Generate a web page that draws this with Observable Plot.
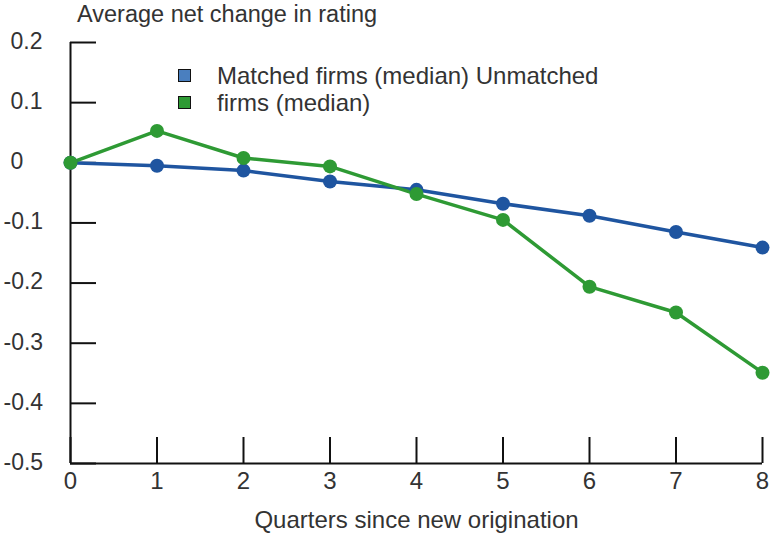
<!DOCTYPE html>
<html>
<head>
<meta charset="utf-8">
<script src="https://cdn.jsdelivr.net/npm/d3@7"></script>
<script src="https://cdn.jsdelivr.net/npm/@observablehq/plot@0.6"></script>
<style>
  html, body { margin: 0; padding: 0; background: #fff; }
  #wrap { position: relative; width: 771px; height: 537px; font-family: "Liberation Sans", Arial, sans-serif; color: #333; }
  #title { position: absolute; left: 77px; top: 1px; font-size: 23.5px; line-height: 26px; white-space: nowrap; }
  #legend { position: absolute; left: 178px; top: 62px; font-size: 24px; line-height: 27px; z-index: 2; }
  .item { display: flex; align-items: center; white-space: nowrap; }
  .sw { width: 11px; height: 11px; border: 1.5px solid #111; margin-right: 26px; }
</style>
</head>
<body>
<div id="wrap">
  <div id="title"></div>
  <div id="legend"></div>
</div>
<script>
const titleText = "Average net change in rating";
const xLabel = "Quarters since new origination";
const quarters = [0, 1, 2, 3, 4, 5, 6, 7, 8];
const matched = [0, -0.005, -0.013, -0.031, -0.045, -0.068, -0.088, -0.115, -0.141];
const unmatched = [0, 0.053, 0.008, -0.006, -0.052, -0.095, -0.206, -0.249, -0.349];
const seriesNames = ["Matched firms (median)", "Unmatched firms (median)"];
const legendLines = ["Matched firms (median) Unmatched", "firms (median)"];
const seriesColors = ["#1f55a0", "#2e9a34"];
const legendFill = ["#4a7fbf", "#2e9a34"];
const yTicks = [0.2, 0.1, 0, -0.1, -0.2, -0.3, -0.4, -0.5];
const xTicks = [0, 1, 2, 3, 4, 5, 6, 7, 8];

const data = [];
quarters.forEach((q, i) => {
  data.push({q, v: matched[i], s: seriesNames[0]});
  data.push({q, v: unmatched[i], s: seriesNames[1]});
});

document.getElementById("title").textContent = titleText;
const leg = document.getElementById("legend");
legendLines.forEach((t, i) => {
  const d = document.createElement("div");
  d.className = "item";
  d.innerHTML = `<span class="sw" style="background:${legendFill[i]}"></span><span>${t}</span>`;
  leg.appendChild(d);
});

const color = {domain: seriesNames, range: seriesColors};
const fmt = d => String(d);
const none = () => "";

const chart = Plot.plot({
  width: 771,
  height: 537,
  marginLeft: 70,
  marginRight: 9,
  marginTop: 42,
  marginBottom: 74,
  style: {fontFamily: "Liberation Sans, Arial, sans-serif", fontSize: "24px", color: "#333", background: "transparent"},
  x: {domain: [0, 8]},
  y: {domain: [-0.5, 0.2]},
  color,
  marks: [
    // inward tick marks
    Plot.axisY({ticks: yTicks, tickSize: -26, strokeWidth: 2, stroke: "#111", tickFormat: none, label: null}),
    Plot.axisX({ticks: xTicks, tickSize: -26, strokeWidth: 2, stroke: "#111", tickFormat: none, label: null}),
    // tick labels
    Plot.axisY({ticks: yTicks.filter(d => d >= 0), tickSize: 0, tickPadding: 0, textAnchor: "start", dx: -60, dy: -1, fontSize: 23, tickFormat: fmt, fill: "#333", label: null}),
    Plot.axisY({ticks: yTicks.filter(d => d < 0), tickSize: 0, tickPadding: 0, textAnchor: "start", dx: -67, dy: -1, fontSize: 23, tickFormat: fmt, fill: "#333", label: null}),
    Plot.axisX({ticks: xTicks, tickSize: 0, tickPadding: 8, tickFormat: fmt, fill: "#333", label: xLabel, labelAnchor: "center", labelOffset: 64, labelArrow: "none"}),
    Plot.ruleX([0], {stroke: "#111", strokeWidth: 2}),
    Plot.ruleY([-0.5], {stroke: "#111", strokeWidth: 2}),
    Plot.line(data, {x: "q", y: "v", stroke: "s", strokeWidth: 3.5}),
    Plot.dot(data, {x: "q", y: "v", fill: "s", r: 7})
  ]
});
chart.style.position = "absolute";
chart.style.left = "0";
chart.style.top = "0";
document.getElementById("wrap").appendChild(chart);
</script>
</body>
</html>
